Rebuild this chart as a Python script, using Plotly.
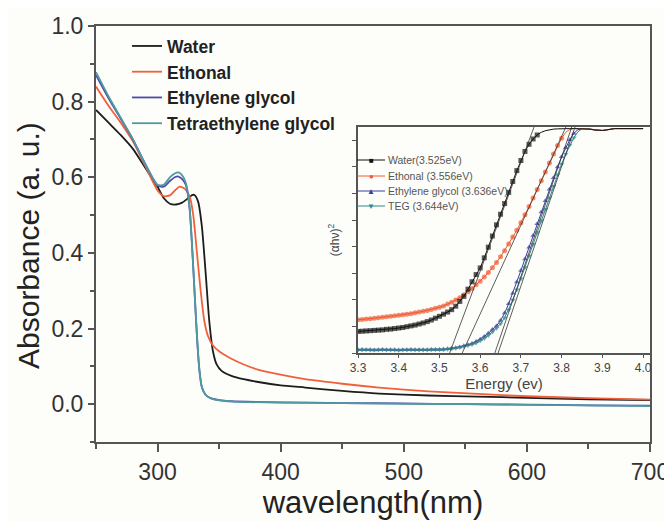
import plotly.graph_objects as go

# ---------------- main UV-vis data ----------------
wl_water = [250, 260, 270, 280, 290, 300, 305, 310, 315, 320, 325, 328, 330, 333, 336, 339, 342, 345, 348, 352,
            360, 370, 383, 400, 420, 450, 480, 520, 560, 600, 650, 700]
abs_water = [0.778, 0.745, 0.712, 0.675, 0.625, 0.575, 0.545, 0.530, 0.528, 0.533, 0.545, 0.553, 0.553, 0.535, 0.470,
             0.350, 0.220, 0.140, 0.105, 0.088, 0.075, 0.066, 0.058, 0.050, 0.044, 0.035, 0.028, 0.023, 0.020, 0.017,
             0.013, 0.011]

wl_eth = [250, 260, 270, 280, 290, 300, 305, 310, 315, 318, 322, 326, 329, 332, 335, 338, 341, 345, 350, 360, 370,
          383, 400, 420, 450, 480, 520, 560, 600, 650, 700]
abs_eth = [0.840, 0.790, 0.745, 0.695, 0.630, 0.565, 0.550, 0.552, 0.568, 0.575, 0.570, 0.550, 0.500, 0.400, 0.300,
           0.220, 0.180, 0.155, 0.140, 0.120, 0.105, 0.090, 0.078, 0.066, 0.054, 0.044, 0.034, 0.027, 0.021, 0.016,
           0.012]

wl_eg = [250, 260, 270, 280, 290, 300, 305, 310, 314, 317, 320, 323, 326, 328, 330, 332, 334, 336, 339, 343, 350,
         360, 400, 450, 500, 550, 600, 650, 700]
abs_eg = [0.870, 0.810, 0.755, 0.700, 0.635, 0.578, 0.575, 0.590, 0.600, 0.602, 0.595, 0.580, 0.520, 0.420, 0.300,
          0.180, 0.090, 0.045, 0.025, 0.016, 0.011, 0.008, 0.005, 0.003, 0.002, 0.000, -0.001, -0.003, -0.004]
abs_teg = [0.878, 0.815, 0.758, 0.700, 0.635, 0.580, 0.580, 0.600, 0.610, 0.613, 0.605, 0.585, 0.520, 0.420, 0.300,
           0.180, 0.090, 0.045, 0.025, 0.016, 0.010, 0.007, 0.004, 0.003, 0.001, 0.000, -0.002, -0.003, -0.005]

series_names = ["Water", "Ethonal", "Ethylene glycol", "Tetraethylene glycol"]
series_colors = ["#1c1c1c", "#f0603c", "#4c4ca8", "#4f9aa0"]

# ---------------- inset Tauc-plot data ----------------
energy = [round(3.30 + 0.01 * i, 2) for i in range(71)]
tauc_water = [0.81, 0.82, 0.83, 0.84, 0.85, 0.86, 0.87, 0.89, 0.90, 0.92,
              0.94, 0.96, 0.99, 1.02, 1.05, 1.09, 1.13, 1.18, 1.24, 1.31,
              1.38, 1.46, 1.54, 1.63, 1.76, 1.94, 2.13, 2.40, 2.68, 2.95,
              3.20, 3.58, 3.98, 4.40, 4.82, 5.22, 5.62, 6.04, 6.45, 6.86,
              7.24, 7.58, 7.85, 8.05, 8.20, 8.30, 8.36, 8.40, 8.42, 8.43,
              8.44, 8.44, 8.44, 8.44, 8.44, 8.44, 8.44, 8.42, 8.39, 8.37,
              8.37, 8.39, 8.42, 8.44, 8.44, 8.44, 8.44, 8.44, 8.44, 8.44, 8.44]
tauc_eth = [1.25, 1.26, 1.28, 1.29, 1.31, 1.33, 1.34, 1.36, 1.38, 1.40,
            1.42, 1.44, 1.46, 1.48, 1.51, 1.54, 1.57, 1.60, 1.64, 1.68,
            1.72, 1.77, 1.84, 1.91, 1.99, 2.08, 2.19, 2.30, 2.43, 2.57,
            2.70, 2.86, 3.03, 3.21, 3.40, 3.62, 3.85, 4.10, 4.36, 4.62,
            4.90, 5.20, 5.51, 5.83, 6.15, 6.48, 6.81, 7.15, 7.48, 7.80,
            8.08, 8.30, 8.41, 8.44, 8.44, 8.44, 8.44, 8.42, 8.39, 8.37,
            8.37, 8.39, 8.42, 8.44, 8.44, 8.44, 8.44, 8.44, 8.44, 8.44, 8.44]
tauc_eg = [0.12, 0.13, 0.12, 0.12, 0.11, 0.12, 0.13, 0.12, 0.12, 0.12,
           0.11, 0.12, 0.12, 0.13, 0.12, 0.12, 0.12, 0.12, 0.13, 0.13,
           0.13, 0.14, 0.16, 0.18, 0.20, 0.23, 0.27, 0.31, 0.36, 0.43,
           0.52, 0.62, 0.74, 0.88, 1.02, 1.22, 1.50, 1.85, 2.25, 2.67,
           3.10, 3.54, 3.98, 4.42, 4.86, 5.30, 5.73, 6.16, 6.59, 7.00,
           7.38, 7.72, 8.02, 8.26, 8.40, 8.44, 8.44, 8.42, 8.39, 8.37,
           8.37, 8.39, 8.42, 8.44, 8.44, 8.44, 8.44, 8.44, 8.44, 8.44, 8.44]
tauc_teg = [0.11, 0.11, 0.12, 0.11, 0.11, 0.11, 0.12, 0.11, 0.11, 0.11,
            0.10, 0.11, 0.11, 0.12, 0.11, 0.11, 0.11, 0.11, 0.12, 0.12,
            0.12, 0.12, 0.14, 0.16, 0.18, 0.21, 0.24, 0.28, 0.32, 0.38,
            0.46, 0.55, 0.66, 0.79, 0.93, 1.10, 1.33, 1.63, 1.99, 2.38,
            2.79, 3.22, 3.65, 4.09, 4.53, 4.97, 5.41, 5.84, 6.27, 6.70,
            7.11, 7.48, 7.82, 8.10, 8.32, 8.43, 8.44, 8.42, 8.39, 8.37,
            8.37, 8.39, 8.42, 8.44, 8.44, 8.44, 8.44, 8.44, 8.44, 8.44, 8.44]
inset_labels = ["Water(3.525eV)", "Ethonal (3.556eV)", "Ethylene glycol (3.636eV)", "TEG (3.644eV)"]
inset_colors = ["#111111", "#f05a32", "#3a3aa0", "#2e8a86"]
inset_symbols = ["square", "circle", "triangle-up", "triangle-down"]
legend_glyphs = ["\u25a0", "\u25cf", "\u25b2", "\u25bc"]
band_gaps = [3.525, 3.556, 3.636, 3.644]
fit_slopes = [41.0, 33.4, 45.0, 45.0]

# the page adds an 8px body margin, so the figure is sized to fit inside it
OFF = 8
W, H = 672 - OFF, 522 - OFF
ML, MR, MT, MB = 96 - OFF, 22, 26 - OFF, 80


def px(xp):  # page pixel -> paper fraction
    return (xp - OFF - ML) / (W - ML - MR)


def py(yp):
    return (H - MB - (yp - OFF)) / (H - MT - MB)


fig = go.Figure()

main_x = [wl_water, wl_eth, wl_eg, wl_eg]
main_y = [abs_water, abs_eth, abs_eg, abs_teg]
for i in range(4):
    fig.add_trace(go.Scatter(
        x=main_x[i], y=main_y[i], mode="lines", name="<b>" + series_names[i] + "</b>",
        line=dict(color=series_colors[i], width=1.8, shape="spline", smoothing=0.6),
        xaxis="x", yaxis="y"))

# inset: draw EG, TEG, Ethonal, Water (water on top)
tauc = [tauc_water, tauc_eth, tauc_eg, tauc_teg]
plateau = 8.3
for i in [2, 3, 1, 0]:
    sizes = [5 if v < plateau else 0 for v in tauc[i]]
    fig.add_trace(go.Scatter(
        x=energy, y=tauc[i], mode="lines+markers", name=inset_labels[i], showlegend=False,
        line=dict(color=inset_colors[i], width=1),
        marker=dict(symbol=inset_symbols[i], size=sizes, color=inset_colors[i], line=dict(width=0)),
        xaxis="x2", yaxis="y2"))

ytop = 8.5
for i in range(4):
    fig.add_trace(go.Scatter(
        x=[band_gaps[i], band_gaps[i] + ytop / fit_slopes[i]], y=[0, ytop], mode="lines",
        line=dict(color="#333333", width=0.8), showlegend=False, hoverinfo="skip",
        xaxis="x2", yaxis="y2"))

# inset legend (compact, drawn as shapes + text)
shapes = []
annotations = []
row_y = [160, 176, 191, 206]
for i in range(4):
    shapes.append(dict(type="line", xref="paper", yref="paper", x0=px(357), x1=px(385),
                       y0=py(row_y[i]), y1=py(row_y[i]), line=dict(color=inset_colors[i], width=1)))
    annotations.append(dict(xref="paper", yref="paper", x=px(371), y=py(row_y[i]), text=legend_glyphs[i],
                            showarrow=False, xanchor="center", yanchor="middle",
                            font=dict(size=8, color=inset_colors[i])))
    annotations.append(dict(xref="paper", yref="paper", x=px(386), y=py(row_y[i]), text=inset_labels[i],
                            showarrow=False, xanchor="left", yanchor="middle",
                            font=dict(size=10.5, color="#555555")))

# main y-axis title placed as in the reference
annotations.append(dict(xref="paper", yref="paper", x=px(28), y=py(246), text="Absorbance (a. u.)",
                        textangle=-90, showarrow=False, xanchor="center", yanchor="middle",
                        font=dict(size=30, color="#222222")))

axis_col = "#555555"
font_fam = "Liberation Sans, Arial, sans-serif"
fig.update_layout(
    width=W, height=H,
    margin=dict(l=ML, r=MR, t=MT, b=MB),
    paper_bgcolor="#fdfdfa", plot_bgcolor="#fdfdfa",
    font=dict(family=font_fam, color="#333333"),
    shapes=shapes, annotations=annotations,
    xaxis=dict(domain=[0, 1], range=[250, 700], tickmode="linear", tick0=300, dtick=100, automargin=False,
               ticks="outside", ticklen=8, tickwidth=1.5, tickcolor=axis_col,
               minor=dict(ticks="outside", ticklen=5, tickwidth=1.5, tickcolor=axis_col, tick0=250, dtick=50),
               showline=True, linecolor=axis_col, linewidth=2, mirror=True, showgrid=False, zeroline=False,
               tickfont=dict(size=23, color="#333333"),
               title=dict(text="wavelength(nm)", font=dict(size=31, color="#222222"), standoff=4)),
    yaxis=dict(domain=[0, 1], range=[-0.1, 1.0], tickmode="linear", tick0=0, dtick=0.2, tickformat=".1f",
               automargin=False,
               ticks="outside", ticklen=6, tickwidth=1.5, tickcolor=axis_col,
               minor=dict(ticks="outside", ticklen=4, tickwidth=1.5, tickcolor=axis_col, tick0=0.1, dtick=0.2),
               showline=True, linecolor=axis_col, linewidth=2, mirror=True, showgrid=False, zeroline=False,
               tickfont=dict(size=23, color="#333333")),
    xaxis2=dict(domain=[px(358), 1.0], anchor="y2", range=[3.3, 4.017], tickmode="linear", tick0=3.3, dtick=0.1,
                automargin=False,
                tickformat=".1f", ticks="outside", ticklen=3, tickwidth=1, tickcolor=axis_col,
                showline=True, linecolor=axis_col, linewidth=1.5, mirror=True, showgrid=False, zeroline=False,
                tickfont=dict(size=12, color="#444444"),
                title=dict(text="Energy (ev)", font=dict(size=15, color="#444444"), standoff=2)),
    yaxis2=dict(domain=[py(353), py(127)], anchor="x2", range=[0, 8.5], tickmode="linear", tick0=0, dtick=1,
                automargin=False,
                ticks="outside", ticklen=4, tickwidth=1, tickcolor=axis_col, showticklabels=False,
                showline=True, linecolor=axis_col, linewidth=1.5, mirror=True, showgrid=False, zeroline=False,
                title=dict(text="(\u03b1h\u03bd)<sup>2</sup>", font=dict(size=12, color="#444444"), standoff=10)),
    legend=dict(x=0.056, y=0.995, xanchor="left", yanchor="top", bgcolor="rgba(0,0,0,0)",
                font=dict(size=17.5, color="#222222"), itemwidth=30, tracegroupgap=0),
    showlegend=True,
)

fig.write_html("out.html")
